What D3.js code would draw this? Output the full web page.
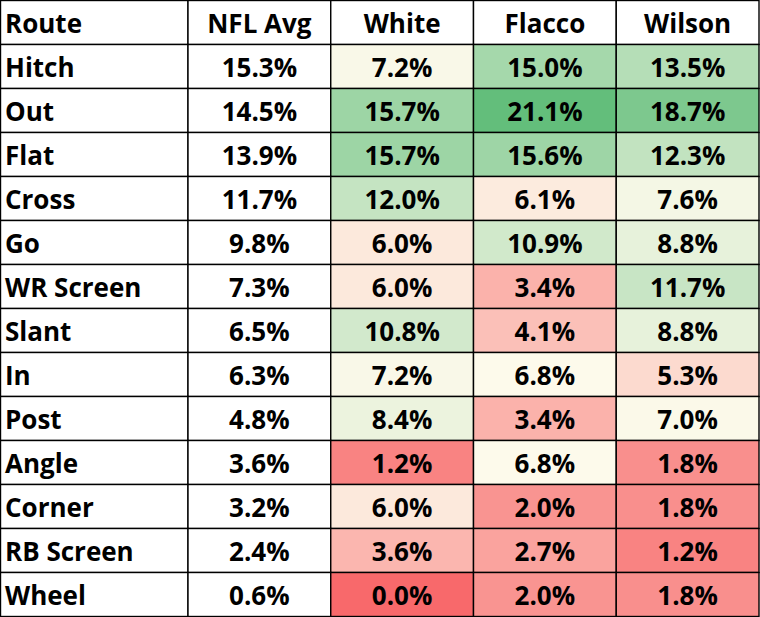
<!DOCTYPE html>
<html>
<head>
<meta charset="utf-8">
<script src="https://cdn.jsdelivr.net/npm/d3@7"></script>
<style>
  body { margin: 0; background: #fff; }
  text { font-family: "Open Sans", sans-serif; font-weight: bold; fill: #000; }
</style>
</head>
<body>
<svg id="chart" width="760" height="617"></svg>
<script>
var headers = ["Route", "NFL Avg", "White", "Flacco", "Wilson"];
var routes = ["Hitch", "Out", "Flat", "Cross", "Go", "WR Screen", "Slant", "In", "Post", "Angle", "Corner", "RB Screen", "Wheel"];
var nflAvg = [15.3, 14.5, 13.9, 11.7, 9.8, 7.3, 6.5, 6.3, 4.8, 3.6, 3.2, 2.4, 0.6];
var white  = [7.2, 15.7, 15.7, 12.0, 6.0, 6.0, 10.8, 7.2, 8.4, 1.2, 6.0, 3.6, 0.0];
var flacco = [15.0, 21.1, 15.6, 6.1, 10.9, 3.4, 4.1, 6.8, 3.4, 6.8, 2.0, 2.7, 2.0];
var wilson = [13.5, 18.7, 12.3, 7.6, 8.8, 11.7, 8.8, 5.3, 7.0, 1.8, 1.8, 1.2, 1.8];

var width = 760, height = 617;
var firstColW = 188;

var svg = d3.select("#chart");

// rows: header + one per route
var y = d3.scaleBand()
    .domain(d3.range(routes.length + 1))
    .range([0.5, 616.5]);

// numeric columns share the space right of the route column
var x = d3.scaleBand()
    .domain(headers.slice(1))
    .range([firstColW, 759]);

// Excel style 3-colour scale over the three QB columns (median midpoint)
var qbAll = white.concat(flacco, wilson);
var color = d3.scaleLinear()
    .domain([d3.min(qbAll), d3.median(qbAll), d3.max(qbAll)])
    .range(["#f8696b", "#fdfaeb", "#63be7b"]);

var columns = [
    { key: "NFL Avg", values: nflAvg, fill: false },
    { key: "White", values: white, fill: true },
    { key: "Flacco", values: flacco, fill: true },
    { key: "Wilson", values: wilson, fill: true }
];

var cells = [];
// header row
cells.push({ x0: 0.5, w: firstColW - 0.5, row: 0, text: "Route", anchor: "start", bg: "#fff" });
columns.forEach(function (c) {
    cells.push({ x0: x(c.key), w: x.bandwidth(), row: 0, text: c.key, anchor: "middle", bg: "#fff" });
});
// body rows
routes.forEach(function (r, i) {
    cells.push({ x0: 0.5, w: firstColW - 0.5, row: i + 1, text: r, anchor: "start", bg: "#fff" });
    columns.forEach(function (c) {
        var v = c.values[i];
        cells.push({
            x0: x(c.key), w: x.bandwidth(), row: i + 1,
            text: v.toFixed(1) + "%", anchor: "middle",
            bg: c.fill ? color(v) : "#fff"
        });
    });
});

var g = svg.append("g");

g.selectAll("rect.cell")
    .data(cells)
    .enter()
    .append("rect")
        .attr("class", "cell")
        .attr("x", function (d) { return d.x0; })
        .attr("y", function (d) { return y(d.row); })
        .attr("width", function (d) { return d.w; })
        .attr("height", y.bandwidth())
        .attr("fill", function (d) { return d.bg; })
        .attr("stroke", "#000")
        .attr("stroke-width", 1.4);

g.selectAll("text.label")
    .data(cells)
    .enter()
    .append("text")
        .attr("class", "label")
        .attr("x", function (d) { return d.anchor === "start" ? 5 : d.x0 + d.w / 2; })
        .attr("y", function (d) { return y(d.row) + 32.5; })
        .attr("text-anchor", function (d) { return d.anchor; })
        .attr("font-size", "26px")
        .text(function (d) { return d.text; });
</script>
</body>
</html>
